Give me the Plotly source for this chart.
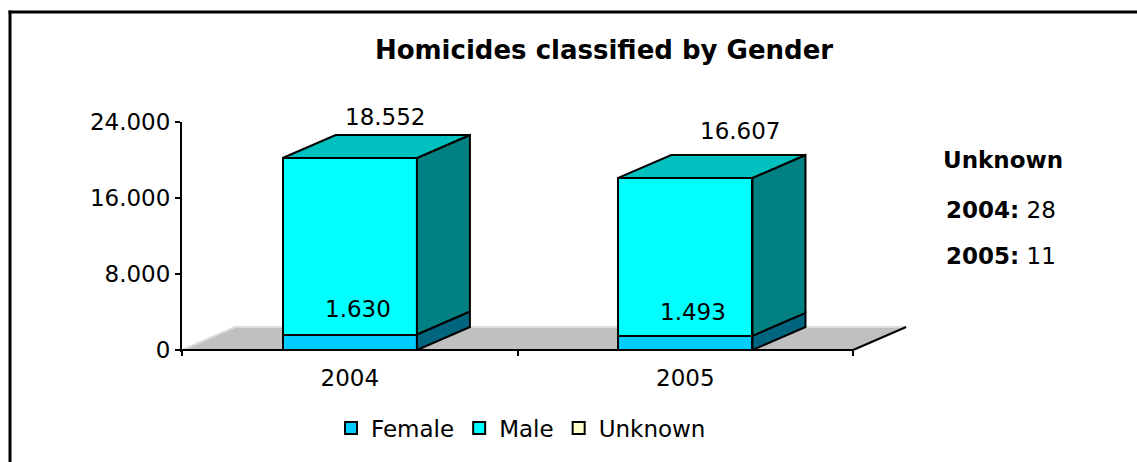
import plotly.graph_objects as go

# ---------------- data ----------------
years = ["2004", "2005"]
female = [1630, 1493]
male = [18552, 16607]
unknown = [28, 11]
y_ticks = [0, 8000, 16000, 24000]
unknown_note = [("2004", 28), ("2005", 11)]

# ---------------- geometry / style ----------------
W, H = 1137, 462
L, R, T, B = 182, 200, 122, 110
plot_w = W - L - R
plot_h = H - T - B
x_min, x_max = -0.5, 1.75
y_top = 24000
y_min = -y_top * 2 / 228
bar_w = 0.4
dx = 0.158          # depth offset (x units)
dy = 2420           # depth offset (y units)
FONT = "DejaVu Sans"

C_FEMALE, C_FEMALE_SIDE = "#00CCFF", "#006680"
C_MALE, C_MALE_SIDE, C_MALE_TOP = "#00FFFF", "#008080", "#00C0C0"
C_UNK = "#FFFFCC"


def px_x(px):
    return (px - L) / plot_w


def px_y(py):
    return (H - B - py) / plot_h


def fmt(v):
    return f"{v:,}".replace(",", ".")


xs = list(range(len(years)))
totals = [f + m + u for f, m, u in zip(female, male, unknown)]

fig = go.Figure()

# front faces
fig.add_trace(go.Bar(x=xs, y=female, width=bar_w, name="Female",
                     marker=dict(color=C_FEMALE, line=dict(color="black", width=2))))
fig.add_trace(go.Bar(x=xs, y=male, width=bar_w, name="Male",
                     marker=dict(color=C_MALE, line=dict(color="black", width=2))))
fig.add_trace(go.Bar(x=xs, y=unknown, width=bar_w, name="Unknown",
                     marker=dict(color=C_UNK, line=dict(color="black", width=2))))


def poly(xv, yv, color):
    fig.add_trace(go.Scatter(x=xv + [xv[0]], y=yv + [yv[0]], mode="lines", fill="toself",
                             fillcolor=color, line=dict(color="black", width=2),
                             showlegend=False, hoverinfo="skip"))


for i in xs:
    xr = i + bar_w / 2
    xl = i - bar_w / 2
    f = female[i]
    tot = totals[i]
    # side faces
    poly([xr, xr + dx, xr + dx, xr], [0, dy, f + dy, f], C_FEMALE_SIDE)
    poly([xr, xr + dx, xr + dx, xr], [f, f + dy, tot + dy, tot], C_MALE_SIDE)
    # top face
    poly([xl, xr, xr + dx, xl + dx], [tot, tot, tot + dy, tot + dy], C_MALE_TOP)

# x axis line (category span only)
fig.add_trace(go.Scatter(x=[-0.5, len(years) - 0.5], y=[0, 0], mode="lines",
                         line=dict(color="black", width=2), showlegend=False, hoverinfo="skip"))

shapes = []
# floor
x0f, x1f = -0.5, len(years) - 0.5
shapes.append(dict(type="path", xref="x", yref="y", layer="below",
                   path=f"M {x0f},0 L {x1f},0 L {x1f + dx},{dy} L {x0f + dx},{dy} Z",
                   fillcolor="#C0C0C0", line=dict(width=0)))
shapes.append(dict(type="path", xref="x", yref="y", layer="below",
                   path=f"M {x0f},0 L {x0f + dx},{dy} L {x1f + dx},{dy}",
                   line=dict(color="#dcdcdc", width=2)))
shapes.append(dict(type="line", xref="x", yref="y", layer="above",
                   x0=x1f, y0=0, x1=x1f + dx, y1=dy, line=dict(color="black", width=2)))
# frame
shapes.append(dict(type="line", xref="paper", yref="paper",
                   x0=px_x(8.5), y0=px_y(12), x1=px_x(W + 5), y1=px_y(12),
                   line=dict(color="black", width=3)))
shapes.append(dict(type="line", xref="paper", yref="paper",
                   x0=px_x(10), y0=px_y(10.5), x1=px_x(10), y1=px_y(H + 5),
                   line=dict(color="black", width=3)))

annotations = []
# male value labels above stacks
top_shift = [(35, 41), (55, 47)]
for i in xs:
    annotations.append(dict(x=i, y=totals[i], xref="x", yref="y", text=fmt(male[i]),
                            showarrow=False, xshift=top_shift[i][0], yshift=top_shift[i][1],
                            xanchor="center", yanchor="middle",
                            font=dict(size=23, color="black", family=FONT)))
# female labels
fem_shift = [(8, 26), (8, 24)]
for i in xs:
    annotations.append(dict(x=i, y=female[i], xref="x", yref="y", text=fmt(female[i]),
                            showarrow=False, xshift=fem_shift[i][0], yshift=fem_shift[i][1],
                            xanchor="center", yanchor="middle",
                            font=dict(size=23, color="black", family=FONT)))
# unknown note
annotations.append(dict(x=px_x(1003), y=px_y(160), xref="paper", yref="paper",
                        text="<b>Unknown</b>", showarrow=False,
                        xanchor="center", yanchor="middle",
                        font=dict(size=23, color="black", family=FONT)))
for k, (yr, v) in enumerate(unknown_note):
    annotations.append(dict(x=px_x(1001), y=px_y(210 + 46 * k), xref="paper", yref="paper",
                            text=f"<b>{yr}:</b> {v}", showarrow=False,
                            xanchor="center", yanchor="middle",
                            font=dict(size=23, color="black", family=FONT)))

fig.update_layout(
    width=W, height=H,
    margin=dict(l=L, r=R, t=T, b=B),
    barmode="stack",
    bargap=0,
    separators=",.",
    paper_bgcolor="white",
    plot_bgcolor="white",
    font=dict(family=FONT, color="black", size=23),
    title=dict(text="<b>Homicides classified by Gender</b>", x=604 / W, xref="container",
               xanchor="center", y=1 - 50 / H, yref="container", yanchor="middle",
               font=dict(size=26, color="black", family=FONT)),
    xaxis=dict(range=[x_min, x_max], tickmode="array", tickvals=xs, ticktext=years,
               ticks="", showline=False, showgrid=False, zeroline=False,
               anchor="free", position=2 / plot_h, ticklabelstandoff=12,
               tickfont=dict(size=23, color="black", family=FONT),
               minor=dict(tickmode="array", tickvals=[-0.5, 0.5, 1.5], ticks="outside",
                          ticklen=5, tickwidth=2, tickcolor="black", showgrid=False)),
    yaxis=dict(range=[y_min, y_top], tickmode="array", tickvals=y_ticks, tickformat=",d",
               ticks="outside", ticklen=5, tickwidth=2, tickcolor="black",
               showline=True, linecolor="black", linewidth=2,
               showgrid=False, zeroline=False,
               tickfont=dict(size=23, color="black", family=FONT)),
    legend=dict(orientation="h", x=521 / W, xref="container", xanchor="center",
                y=1 - 428 / H, yref="container", yanchor="middle", traceorder="normal",
                font=dict(size=23, color="black", family=FONT), bgcolor="rgba(0,0,0,0)"),
    shapes=shapes,
    annotations=annotations,
    showlegend=True,
)

fig.write_html("out.html", config={"displayModeBar": False},
               post_script="document.body.style.margin='0px';")
